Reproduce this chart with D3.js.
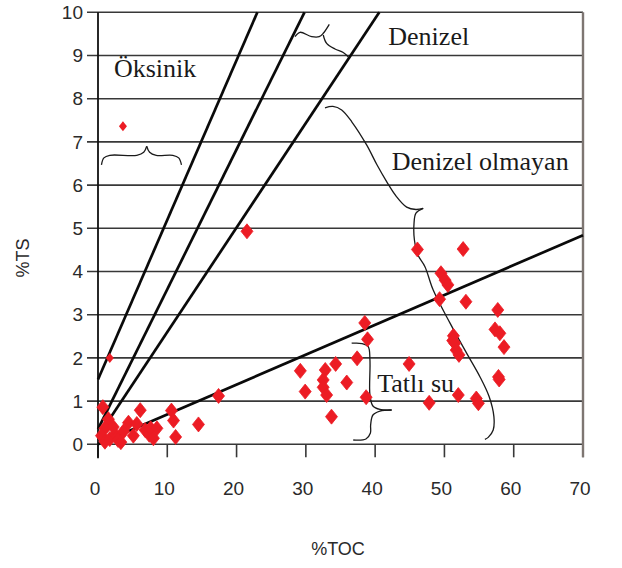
<!DOCTYPE html>
<html><head><meta charset="utf-8">
<script src="https://cdn.jsdelivr.net/npm/d3@7"></script>
<style>html,body{margin:0;padding:0;background:#fff;}svg{display:block;}</style>
</head><body>
<svg id="c" width="622" height="568"></svg>
<script>
// ---- data ----
const xTicks = [0, 10, 20, 30, 40, 50, 60, 70];
const yTicks = [0, 1, 2, 3, 4, 5, 6, 7, 8, 9, 10];
const xTitle = "%TOC";
const yTitle = "%TS";
// samples: [TOC, TS]
const samples = [
  [21.5,4.93],[17.4,1.12],[14.5,0.46],[10.6,0.78],[10.9,0.55],[11.2,0.17],[6.1,0.79],[0.7,0.86],
  [1.5,0.58],[1.0,0.37],[0.5,0.2],[1.0,0.06],[1.7,0.12],[2.5,0.22],[2.9,0.1],[3.7,0.3],[4.4,0.5],
  [5.1,0.2],[5.6,0.47],[6.8,0.33],[7.4,0.22],[7.6,0.37],[8.5,0.37],[8.0,0.14],[2.2,0.4],[3.3,0.05],
  [38.5,2.81],[38.9,2.43],[37.4,1.99],[34.3,1.86],[32.8,1.72],[29.2,1.70],[35.9,1.43],[32.5,1.49],
  [32.5,1.32],[29.9,1.22],[33.0,1.14],[38.7,1.09],[33.7,0.64],[44.9,1.86],[47.8,0.96],
  [46.1,4.51],[52.7,4.52],[49.5,3.96],[50.1,3.80],[50.5,3.69],[49.3,3.36],[53.1,3.30],[57.7,3.11],
  [57.3,2.66],[58.0,2.57],[58.6,2.25],[51.3,2.51],[51.5,2.34],[51.7,2.18],[52.1,2.07],[51.2,2.40],
  [57.9,1.50],[57.8,1.56],[52.0,1.14],[54.6,1.06],[54.9,0.95]
];
const samplesSmall = [[3.6,7.36],[1.7,2.0]];
// boundary lines: [[TOC,TS],[TOC,TS]]
const boundaryLines = [
  [[0,1.5],[23.0,10]],
  [[0,0.35],[29.8,10]],
  [[0,0.18],[40.6,10]],
  [[0,0],[70,4.84]]
];
// region labels
const labels = [
  {text:"Öksinik", at:[2.3,8.5]},
  {text:"Denizel", at:[41.9,9.25]},
  {text:"Denizel olmayan", at:[42.4,6.35]},
  {text:"Tatlı su", at:[40.3,1.22]}
];
// brace annotations, each arm as [TOC,TS] points
const braces = [
  // Öksinik
  [[0.5,6.47],[0.85,6.63],[1.7,6.69],[5.6,6.69],[6.6,6.76],[7.03,6.9]],
  [[7.03,6.9],[7.45,6.76],[8.4,6.69],[10.8,6.69],[11.65,6.63],[12.05,6.47]],
  // top (Denizel)
  [[28.43,9.435],[29.15,9.537],[30.84,9.435],[31.93,9.435],[32.51,9.514],[33.38,9.722]],
  [[32.51,9.475],[33.0,9.28],[34.2,9.15],[35.4,9.07],[36.12,8.97]],
  // Denizel olmayan
  [[32.76,7.79],[33.91,7.82],[35.17,7.74],[36.65,7.46],[38.77,6.93],[40.26,6.47],[41.66,6.08],[43.0,5.75],[44.55,5.49],[45.89,5.435],[46.94,5.46]],
  [[46.94,5.46],[45.89,5.35],[45.6,5.08],[45.67,4.73],[46.18,4.38],[47.19,4.11],[48.38,3.57],[50.79,2.81],[53.2,2.11],[55.12,1.565],[56.46,1.10],[57.14,0.64],[57.04,0.33],[56.32,0.16],[55.84,0.116]],
  // Tatlı su
  [[36.61,2.34],[38.1,2.333],[39.0,2.26],[39.25,1.95],[39.25,1.14],[39.68,0.887],[40.69,0.806],[42.38,0.794]],
  [[42.38,0.794],[40.69,0.77],[39.68,0.678],[39.35,0.447],[39.32,0.26],[38.67,0.123],[36.84,0.10]]
];

// ---- drawing ----
const svg = d3.select("#c");
const x = d3.scaleLinear().domain([0,70]).range([98,583]);
const y = d3.scaleLinear().domain([0,10]).range([444.3,12.3]);

// gridlines + y ticks
svg.append("g").selectAll("line").data(yTicks).join("line")
  .attr("x1", x(0)-11).attr("x2", x(70))
  .attr("y1", d=>y(d)).attr("y2", d=>y(d))
  .attr("stroke","#383838").attr("stroke-width",1.6);

// x ticks
svg.append("g").selectAll("line").data(xTicks).join("line")
  .attr("x1", d=>x(d)).attr("x2", d=>x(d))
  .attr("y1", y(0)).attr("y2", y(0)+13)
  .attr("stroke","#383838").attr("stroke-width",1.6);

// right border
svg.append("line").attr("x1",x(70)).attr("x2",x(70)).attr("y1",y(10)).attr("y2",y(0)+13)
  .attr("stroke","#7e7672").attr("stroke-width",2.4);
// left axis
svg.append("line").attr("x1",x(0)).attr("x2",x(0)).attr("y1",y(10)).attr("y2",y(0)+14)
  .attr("stroke","#111").attr("stroke-width",1.8);

// tick labels
svg.append("g").selectAll("text").data(yTicks).join("text")
  .attr("x", 83).attr("y", d=>y(d)).attr("dy","0.35em")
  .attr("text-anchor","end")
  .attr("font-family","'Liberation Sans', Arial, sans-serif").attr("font-size",19)
  .attr("fill","#2a2a2a").text(d=>d);
svg.append("g").selectAll("text").data(xTicks).join("text")
  .attr("x", d=>x(d)-3).attr("y", 495)
  .attr("text-anchor","middle")
  .attr("font-family","'Liberation Sans', Arial, sans-serif").attr("font-size",19)
  .attr("fill","#2a2a2a").text(d=>d);

// axis titles
svg.append("text").attr("x",338).attr("y",555).attr("text-anchor","middle")
  .attr("font-family","'Liberation Sans', Arial, sans-serif").attr("font-size",18)
  .attr("fill","#2a2a2a").text(xTitle);
svg.append("text").attr("transform","translate(29,258) rotate(-90)").attr("text-anchor","middle")
  .attr("font-family","'Liberation Sans', Arial, sans-serif").attr("font-size",18)
  .attr("fill","#2a2a2a").text(yTitle);

// boundary lines
const lineGen = d3.line().x(d=>x(d[0])).y(d=>y(d[1]));
svg.append("g").selectAll("path").data(boundaryLines).join("path")
  .attr("d", lineGen).attr("fill","none").attr("stroke","#0a0a0a").attr("stroke-width",2.7);

// braces
const braceGen = d3.line().x(d=>x(d[0])).y(d=>y(d[1])).curve(d3.curveCatmullRom.alpha(0.5));
svg.append("g").selectAll("path").data(braces).join("path")
  .attr("d", braceGen).attr("fill","none").attr("stroke","#1a1a1a").attr("stroke-width",1.3);

// samples (diamonds)
const diamond = (w,h)=>`M0,${-h/2}L${w/2},0L0,${h/2}L${-w/2},0Z`;
svg.append("g").selectAll("path").data(samples).join("path")
  .attr("transform", d=>`translate(${x(d[0])},${y(d[1])})`)
  .attr("d", diamond(12,15)).attr("fill","#ec1c24")
  .attr("stroke","#ec1c24").attr("stroke-width",0.8).attr("stroke-linejoin","round");
svg.append("g").selectAll("path").data(samplesSmall).join("path")
  .attr("transform", d=>`translate(${x(d[0])},${y(d[1])})`)
  .attr("d", diamond(8,10)).attr("fill","#ec1c24");

// region labels
svg.append("g").selectAll("text").data(labels).join("text")
  .attr("x", d=>x(d.at[0])).attr("y", d=>y(d.at[1]))
  .attr("font-family","'Liberation Serif', 'Times New Roman', serif").attr("font-size",26)
  .attr("fill","#1a1a1a").text(d=>d.text);
</script>
</body></html>
